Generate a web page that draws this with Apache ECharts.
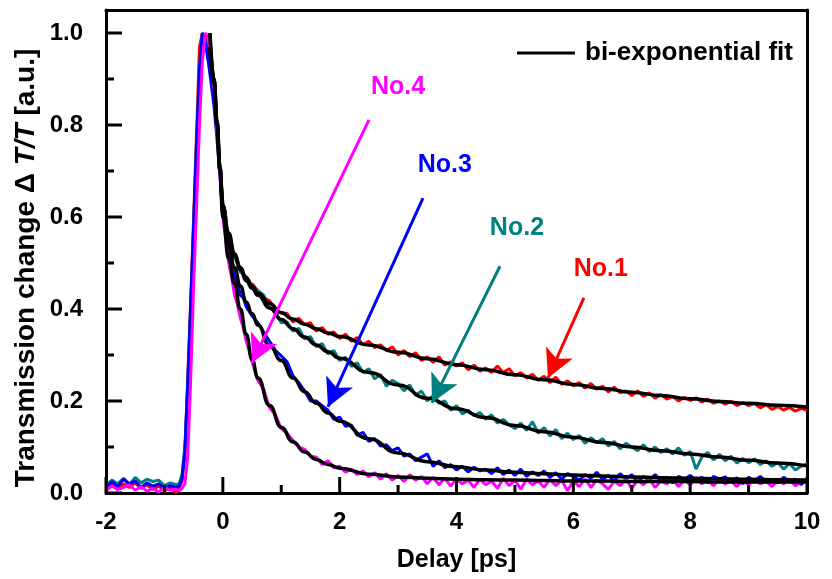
<!DOCTYPE html>
<html><head><meta charset="utf-8">
<script src="https://cdn.jsdelivr.net/npm/echarts@6/dist/echarts.min.js"></script>
<style>html,body{margin:0;padding:0;background:#fff}#c{width:832px;height:579px}</style>
</head><body><div id="c"></div><script>
// Delay axis (ps) shared by the four measured traces
const delay = [
 -2.0,-1.9,-1.8,-1.7,-1.6,-1.5,-1.4,-1.3,-1.2,-1.1,
 -1.0,-0.9,-0.8,-0.75,-0.7,-0.65,-0.6,-0.55,-0.5,-0.45,
 -0.4,-0.35,-0.3,-0.25,-0.2,-0.15,-0.1,-0.05,0,0.05,
 0.1,0.15,0.2,0.25,0.3,0.35,0.4,0.45,0.5,0.6,
 0.7,0.8,0.9,1.0,1.1,1.2,1.3,1.4,1.5,1.6,
 1.7,1.8,1.9,2.0,2.1,2.2,2.3,2.4,2.5,2.6,
 2.7,2.8,2.9,3.0,3.1,3.2,3.3,3.4,3.5,3.6,
 3.7,3.8,3.9,4.0,4.1,4.2,4.3,4.4,4.5,4.6,
 4.7,4.8,4.9,5.0,5.1,5.2,5.3,5.4,5.5,5.6,
 5.7,5.8,5.9,6.0,6.1,6.2,6.3,6.4,6.5,6.6,
 6.7,6.8,6.9,7.0,7.1,7.2,7.3,7.4,7.5,7.6,
 7.7,7.8,7.9,8.0,8.1,8.2,8.3,8.4,8.5,8.6,
 8.7,8.8,8.9,9.0,9.1,9.2,9.3,9.4,9.5,9.6,
 9.7,9.8,9.9,10.0];

const no1 = [
 0.010,0.018,0.008,0.020,0.012,0.022,0.010,0.018,0.008,0.015,
 0.005,0.012,0.000,0.010,0.025,0.080,0.250,0.420,0.600,0.780,
 0.970,1.000,0.990,0.960,0.930,0.880,0.800,0.710,0.630,0.580,
 0.560,0.535,0.515,0.500,0.490,0.475,0.470,0.455,0.455,0.440,
 0.425,0.418,0.398,0.392,0.390,0.372,0.380,0.366,0.370,0.352,
 0.360,0.345,0.350,0.336,0.345,0.330,0.338,0.322,0.330,0.316,
 0.322,0.310,0.318,0.300,0.310,0.296,0.305,0.288,0.296,0.284,
 0.296,0.278,0.285,0.276,0.283,0.268,0.278,0.265,0.272,0.262,
 0.276,0.262,0.270,0.255,0.262,0.250,0.258,0.245,0.254,0.240,
 0.252,0.236,0.244,0.233,0.240,0.228,0.238,0.226,0.232,0.220,
 0.230,0.218,0.222,0.212,0.222,0.210,0.218,0.206,0.214,0.204,
 0.210,0.200,0.208,0.201,0.207,0.198,0.204,0.195,0.200,0.193,
 0.199,0.190,0.197,0.190,0.195,0.185,0.192,0.182,0.188,0.180,
 0.186,0.178,0.184,0.180];

const no2 = [
 0.015,0.028,0.020,0.032,0.018,0.034,0.022,0.030,0.025,0.028,
 0.016,0.022,0.018,0.020,0.040,0.100,0.240,0.400,0.580,0.760,
 0.920,1.000,0.980,0.940,0.900,0.860,0.790,0.710,0.630,0.580,
 0.555,0.540,0.510,0.505,0.480,0.478,0.460,0.462,0.445,0.440,
 0.430,0.402,0.395,0.370,0.372,0.352,0.358,0.335,0.340,0.318,
 0.325,0.302,0.310,0.288,0.295,0.275,0.283,0.262,0.270,0.248,
 0.258,0.232,0.245,0.238,0.222,0.235,0.212,0.222,0.200,0.212,
 0.195,0.200,0.180,0.190,0.172,0.180,0.168,0.175,0.160,0.170,
 0.152,0.160,0.148,0.140,0.152,0.136,0.155,0.130,0.142,0.124,
 0.138,0.118,0.130,0.116,0.125,0.108,0.120,0.110,0.118,0.102,
 0.112,0.096,0.108,0.100,0.092,0.105,0.090,0.100,0.088,0.096,
 0.085,0.098,0.082,0.090,0.052,0.078,0.088,0.072,0.084,0.070,
 0.080,0.065,0.075,0.066,0.074,0.062,0.070,0.058,0.066,0.052,
 0.064,0.050,0.058,0.064];

const no3 = [
 0.012,0.025,0.014,0.030,0.020,0.026,0.012,0.022,0.015,0.020,
 0.010,0.016,0.012,0.015,0.030,0.090,0.240,0.410,0.580,0.760,
 0.920,1.000,0.980,0.940,0.890,0.840,0.770,0.690,0.610,0.560,
 0.530,0.500,0.470,0.455,0.430,0.425,0.405,0.395,0.385,0.370,
 0.350,0.330,0.310,0.298,0.285,0.255,0.240,0.222,0.200,0.200,
 0.190,0.180,0.160,0.165,0.145,0.148,0.125,0.132,0.112,0.118,
 0.102,0.105,0.092,0.098,0.080,0.085,0.070,0.078,0.085,0.058,
 0.070,0.055,0.062,0.050,0.058,0.046,0.056,0.048,0.052,0.042,
 0.055,0.040,0.050,0.038,0.052,0.036,0.046,0.038,0.048,0.034,
 0.044,0.030,0.042,0.036,0.028,0.040,0.032,0.045,0.030,0.038,
 0.026,0.042,0.030,0.040,0.024,0.036,0.028,0.040,0.026,0.034,
 0.022,0.036,0.030,0.038,0.028,0.034,0.022,0.036,0.030,0.035,
 0.024,0.033,0.020,0.034,0.026,0.036,0.024,0.030,0.022,0.034,
 0.026,0.030,0.018,0.030];

const no4 = [
 0.005,0.015,0.008,0.012,0.018,0.006,0.014,0.004,0.010,0.002,
 0.012,0.006,0.008,0.005,0.010,0.020,0.080,0.250,0.450,0.620,
 0.800,0.940,1.000,0.990,0.950,0.880,0.790,0.690,0.600,0.550,
 0.500,0.470,0.430,0.410,0.380,0.360,0.330,0.310,0.285,0.245,
 0.225,0.185,0.170,0.140,0.130,0.115,0.100,0.095,0.080,0.078,
 0.062,0.070,0.055,0.058,0.045,0.052,0.040,0.048,0.035,0.044,
 0.030,0.042,0.028,0.038,0.025,0.040,0.028,0.036,0.020,0.034,
 0.018,0.032,0.015,0.030,0.020,0.028,0.012,0.030,0.018,0.026,
 0.010,0.032,0.016,0.028,0.008,0.030,0.018,0.026,0.012,0.030,
 0.016,0.028,0.005,0.026,0.014,0.030,0.012,0.028,0.020,0.008,
 0.026,0.016,0.030,0.010,0.028,0.018,0.032,0.012,0.026,0.020,
 0.030,0.014,0.028,0.018,0.032,0.020,0.028,0.016,0.030,0.020,
 0.026,0.014,0.028,0.018,0.030,0.020,0.026,0.014,0.028,0.020,
 0.030,0.016,0.024,0.026];

// Bi-exponential fit curves
const fitDelay = [-0.22,-0.15,-0.1,-0.05,0,0.1,0.2,0.3,0.4,0.5,
 0.6,0.8,1.0,1.2,1.4,1.6,1.8,2.0,2.5,3.0,
 3.5,4,4.5,5,5.5,6,6.5,7,7.5,8,
 8.5,9,9.5,10];
const fit1 = [1.0,0.9,0.81,0.71,0.625,0.565,0.52,0.49,0.468,0.45,
 0.435,0.412,0.392,0.378,0.367,0.357,0.348,0.34,0.322,0.306,
 0.292,0.279,0.268,0.257,0.246,0.236,0.227,0.219,0.212,0.205,
 0.199,0.195,0.191,0.187];
const fit2 = [1.0,0.9,0.81,0.71,0.625,0.56,0.515,0.485,0.462,0.445,
 0.43,0.402,0.377,0.357,0.339,0.322,0.307,0.293,0.262,0.235,
 0.206,0.183,0.164,0.147,0.133,0.121,0.11,0.1,0.092,0.085,
 0.078,0.071,0.065,0.059];
const fit3 = [0.97,0.89,0.8,0.7,0.61,0.54,0.49,0.45,0.415,0.39,
 0.365,0.32,0.288,0.25,0.22,0.195,0.174,0.156,0.118,0.087,
 0.068,0.057,0.05,0.045,0.042,0.039,0.037,0.035,0.033,0.032,
 0.031,0.03,0.029,0.028];
const fit4 = [0.97,0.89,0.8,0.7,0.6,0.51,0.455,0.40,0.345,0.29,
 0.25,0.19,0.143,0.111,0.089,0.073,0.062,0.054,0.041,0.035,
 0.032,0.03,0.029,0.028,0.027,0.026,0.026,0.025,0.025,0.025,
 0.024,0.024,0.024,0.024];

// Annotations: label positions and arrows (data coordinates)
const labelNames = ['No.1','No.2','No.3','No.4'];
const labelPos = [[6.47,0.487],[5.035,0.576],[3.80,0.713],[3.0,0.883]];
const arrowFrom = [[6.18,0.424],[4.744,0.493],[3.426,0.641],[2.502,0.811]];
const arrowTo = [[5.566,0.25],[3.58,0.196],[1.80,0.187],[0.499,0.283]];

// Tick values
const xMajor = [-2,0,2,4,6,8,10];
const xMinor = [-1,1,3,5,7,9];
const yMajor = [0,0.2,0.4,0.6,0.8,1.0];
const yMinor = [0.1,0.3,0.5,0.7,0.9];

const F = '"Liberation Sans", Arial, Helvetica, sans-serif';
const colors = ['#ff0000','#008080','#0000ff','#ff00ff'];
const pairs = (xs, ys) => xs.map((x, i) => [x, ys[i]]);
const dataSets = [no1, no2, no3, no4];
const fitSets = [fit1, fit2, fit3, fit4];

const seriesList = [];
dataSets.forEach((d, i) => {
  seriesList.push({
    name: labelNames[i], type: 'line', data: pairs(delay, d),
    showSymbol: false, symbol: 'none', z: 2,
    emphasis: { disabled: true },
    lineStyle: { color: colors[i], width: 3, opacity: 1 }, itemStyle: { color: colors[i] },
    markLine: {
      silent: true, symbol: ['none', 'arrow'], symbolSize: [22, 28],
      lineStyle: { color: colors[i], width: 3, type: 'solid', opacity: 1 },
      label: { show: false }, emphasis: { disabled: true },
      data: [[{ coord: arrowFrom[i] }, { coord: arrowTo[i] }]]
    }
  });
});
fitSets.forEach((f) => {
  seriesList.push({
    name: 'bi-exponential fit', type: 'line', data: pairs(fitDelay, f),
    showSymbol: false, symbol: 'none', smooth: true, smoothMonotone: 'x', z: 3,
    emphasis: { disabled: true },
    lineStyle: { color: '#000', width: 3.5 }, itemStyle: { color: '#000' }
  });
});
seriesList.push({
  type: 'scatter', symbolSize: 0, z: 6, silent: true,
  data: labelPos.map((p, i) => ({
    value: p, name: labelNames[i],
    itemStyle: { color: colors[i], opacity: 1 },
    label: { show: true, position: 'inside', formatter: labelNames[i], color: colors[i],
      opacity: 1, fontSize: 25, fontWeight: 'bold', fontFamily: F, textBorderWidth: 0 }
  }))
});

const axisLineStyle = { color: '#000', width: 3 };
const yTitle = {
  id: 'ytitle', type: 'text', x: 26, y: 268, rotation: Math.PI / 2, z: 10,
  style: {
    text: '{a|Transmission change Δ }{b|T/T}{a| [a.u.]}',
    align: 'center', verticalAlign: 'middle',
    rich: {
      a: { fontSize: 28, fontWeight: 'bold', fontFamily: F, fill: '#000' },
      b: { fontSize: 28, fontWeight: 'bold', fontStyle: 'italic', fontFamily: F, fill: '#000' }
    }
  }
};
const option = {
  animation: false,
  backgroundColor: '#fff',
  grid: { left: 106, right: 25, top: 10, bottom: 86 },
  legend: {
    data: [{ name: 'bi-exponential fit', icon: 'rect' }],
    left: 517, top: 40, padding: 0, itemWidth: 58, itemHeight: 3,
    selectedMode: false,
    textStyle: { fontSize: 26, fontWeight: 'bold', fontFamily: F, color: '#000', padding: [0, 0, 0, 5] }
  },
  xAxis: [{
    type: 'value', min: -2, max: 10, interval: 2, position: 'bottom',
    axisLine: { show: true, onZero: false, lineStyle: axisLineStyle },
    axisTick: { show: false }, minorTick: { show: false },
    splitLine: { show: false },
    axisLabel: { margin: 17, color: '#000', fontSize: 24, fontWeight: 'bold', fontFamily: F },
    name: 'Delay [ps]', nameLocation: 'middle', nameGap: 55,
    nameTextStyle: { fontSize: 25, fontWeight: 'bold', fontFamily: F, color: '#000' }
  }, {
    type: 'value', min: -2, max: 10, position: 'top',
    axisLine: { show: true, onZero: false, lineStyle: axisLineStyle },
    axisTick: { show: false }, axisLabel: { show: false }, splitLine: { show: false }
  }],
  yAxis: [{
    type: 'value', min: 0, max: 1.05, position: 'left',
    axisLine: { show: true, onZero: false, lineStyle: axisLineStyle },
    axisTick: { show: false },
    splitLine: { show: false },
    axisLabel: { customValues: yMajor, formatter: v => v.toFixed(1), margin: 23,
      color: '#000', fontSize: 24, fontWeight: 'bold', fontFamily: F }
  }, {
    type: 'value', min: 0, max: 1.05, position: 'right',
    axisLine: { show: true, onZero: false, lineStyle: axisLineStyle },
    axisTick: { show: false }, axisLabel: { show: false }, splitLine: { show: false }
  }],
  graphic: [yTitle],
  series: seriesList
};
const chart = echarts.init(document.getElementById('c'));
chart.setOption(option);

// Inward ticks, placed through the axis scales of the chart
const x0 = chart.convertToPixel({ xAxisIndex: 0 }, -2);
const y0 = chart.convertToPixel({ yAxisIndex: 0 }, 0);
const tickGraphics = [yTitle];
const addTick = (x1, y1, x2, y2) => tickGraphics.push({ type: 'line', z: 100, silent: true,
  shape: { x1, y1, x2, y2 }, style: { stroke: '#000', lineWidth: 3 } });
xMajor.forEach(v => { const p = chart.convertToPixel({ xAxisIndex: 0 }, v); addTick(p, y0, p, y0 - 16); });
xMinor.forEach(v => { const p = chart.convertToPixel({ xAxisIndex: 0 }, v); addTick(p, y0, p, y0 - 8); });
yMajor.forEach(v => { const p = chart.convertToPixel({ yAxisIndex: 0 }, v); addTick(x0, p, x0 + 16, p); });
yMinor.forEach(v => { const p = chart.convertToPixel({ yAxisIndex: 0 }, v); addTick(x0, p, x0 + 8, p); });
chart.setOption({ graphic: tickGraphics }, { replaceMerge: ['graphic'] });
</script></body></html>
